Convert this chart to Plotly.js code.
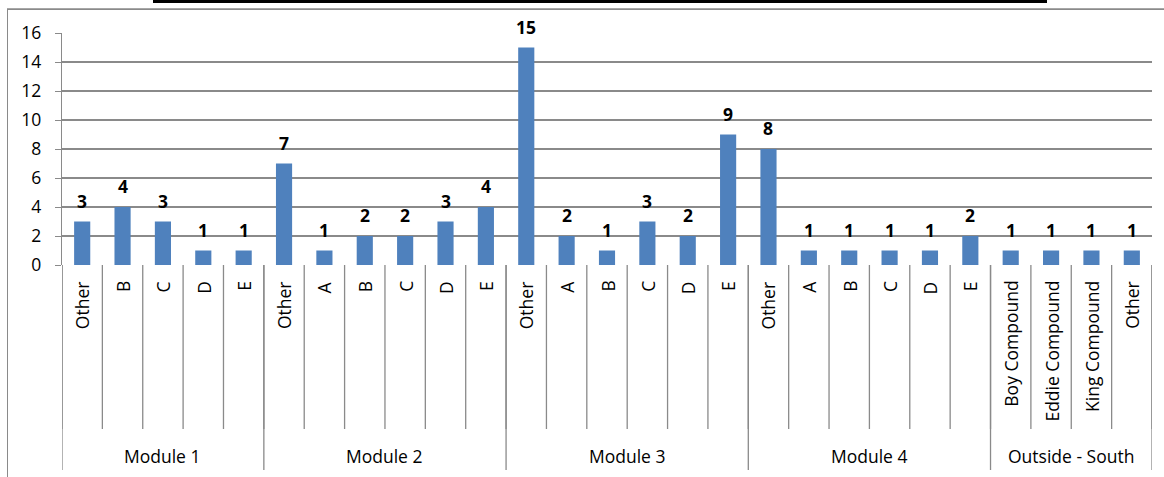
<!DOCTYPE html>
<html>
<head>
<meta charset="utf-8">
<script src="https://cdn.plot.ly/plotly-3.0.1.min.js"></script>
<style>
html,body{margin:0;padding:0;background:#fff;}
#chart{width:1164px;height:477px;}
#frame{position:absolute;left:7px;top:9px;width:1157px;height:468px;border-top:1px solid #8a8a8a;border-left:1px solid #8a8a8a;box-sizing:border-box;pointer-events:none;z-index:10;background:transparent;}
</style>
</head>
<body>
<div id="chart"></div>
<div id="frame"></div>
<script>
// ---- data ----
const groupNames = ["Module 1", "Module 2", "Module 3", "Module 4", "Outside - South"];
const module1Labels = ["Other", "B", "C", "D", "E"];
const module1Values = [3, 4, 3, 1, 1];
const module2Labels = ["Other", "A", "B", "C", "D", "E"];
const module2Values = [7, 1, 2, 2, 3, 4];
const module3Labels = ["Other", "A", "B", "C", "D", "E"];
const module3Values = [15, 2, 1, 3, 2, 9];
const module4Labels = ["Other", "A", "B", "C", "D", "E"];
const module4Values = [8, 1, 1, 1, 1, 2];
const outsideLabels = ["Boy Compound", "Eddie Compound", "King Compound", "Other"];
const outsideValues = [1, 1, 1, 1];
const yTicks = [0, 2, 4, 6, 8, 10, 12, 14, 16];

const groupLabels = [module1Labels, module2Labels, module3Labels, module4Labels, outsideLabels];
const groupValues = [module1Values, module2Values, module3Values, module4Values, outsideValues];

// ---- build ----
const W = 1164, H = 477;
const M = {l: 62, r: 12, t: 33, b: 212};
const plotW = W - M.l - M.r, plotH = H - M.t - M.b;
const py = p => (H - M.b - p) / plotH;   // pixel y -> paper y
const px = p => (p - M.l) / plotW;       // pixel x -> paper x

const ids = [], labels = [], values = [];
const groupBounds = [0];
groupNames.forEach((g, gi) => {
  groupLabels[gi].forEach((lab, li) => {
    ids.push(g + "|" + lab);
    labels.push(lab);
    values.push(groupValues[gi][li]);
  });
  groupBounds.push(ids.length);
});

const FONT = "Open Sans, Liberation Sans, sans-serif";
const FS = 17.5;
const GRAY = "#8a8a8a";

const annotations = [];
ids.forEach((id, i) => {
  annotations.push({
    x: id, xref: "x", y: py(279), yref: "paper",
    text: labels[i], textangle: -90, showarrow: false,
    xanchor: "center", yanchor: "top",
    font: {family: FONT, size: FS, color: "#000"}
  });
  annotations.push({
    x: id, xref: "x", y: values[i], yref: "y",
    text: "<b>" + values[i] + "</b>", showarrow: false,
    xanchor: "center", yanchor: "bottom", yshift: 7,
    font: {family: FONT, size: FS, color: "#000"}
  });
});
groupNames.forEach((g, gi) => {
  annotations.push({
    x: (groupBounds[gi] + groupBounds[gi + 1] - 1) / 2, xref: "x",
    y: py(456), yref: "paper", yanchor: "middle", xanchor: "center",
    text: g, showarrow: false,
    font: {family: FONT, size: FS, color: "#000"}
  });
});

const shapes = [];
// short dividers between every category
for (let b = 0; b <= ids.length; b++) {
  shapes.push({type: "line", xref: "x", yref: "paper",
    x0: b - 0.5, x1: b - 0.5, y0: 0, y1: py(429),
    line: {color: GRAY, width: 1.3}});
}
// long dividers between groups
groupBounds.forEach(b => {
  shapes.push({type: "line", xref: "x", yref: "paper",
    x0: b - 0.5, x1: b - 0.5, y0: 0, y1: py(470),
    line: {color: GRAY, width: 1.3}});
});
// chart outer border, top edge
shapes.push({type: "line", xref: "paper", yref: "paper",
  x0: px(7), x1: px(1164), y0: py(9), y1: py(9), line: {color: GRAY, width: 1.3}});
// title box bottom edge (black)
shapes.push({type: "rect", xref: "paper", yref: "paper",
  x0: px(153), x1: px(1047), y0: py(3), y1: py(-2),
  fillcolor: "#000", line: {width: 0}});

const trace = {
  type: "bar", x: ids, y: values,
  marker: {color: "#4F81BD"}
};

const layout = {
  width: W, height: H,
  margin: M,
  paper_bgcolor: "#fff", plot_bgcolor: "#fff",
  bargap: 0.6,
  showlegend: false,
  font: {family: FONT, size: FS, color: "#000"},
  xaxis: {
    type: "category", range: [-0.5, ids.length - 0.5],
    showticklabels: false, showgrid: false, zeroline: false,
    showline: false, ticks: ""
  },
  yaxis: {
    range: [0, 16], tickvals: yTicks, ticktext: yTicks.map(String),
    showline: true, linecolor: GRAY, linewidth: 1.3,
    ticks: "outside", ticklen: 6, tickcolor: GRAY,
    gridcolor: GRAY, gridwidth: 1.3, zeroline: false,
    ticklabelstandoff: 10,
    tickfont: {family: FONT, size: FS, color: "#000"}
  },
  annotations: annotations,
  shapes: shapes
};

Plotly.newPlot("chart", [trace], layout, {staticPlot: true}).then(() => {
  let n = 0;
  document.querySelectorAll("#chart svg *").forEach(el => {
    const r = el.getBoundingClientRect();
    if (r.width > 0) n++;
  });
  document.getElementById("frame").setAttribute("data-count", String(n));
});
</script>
</body>
</html>
